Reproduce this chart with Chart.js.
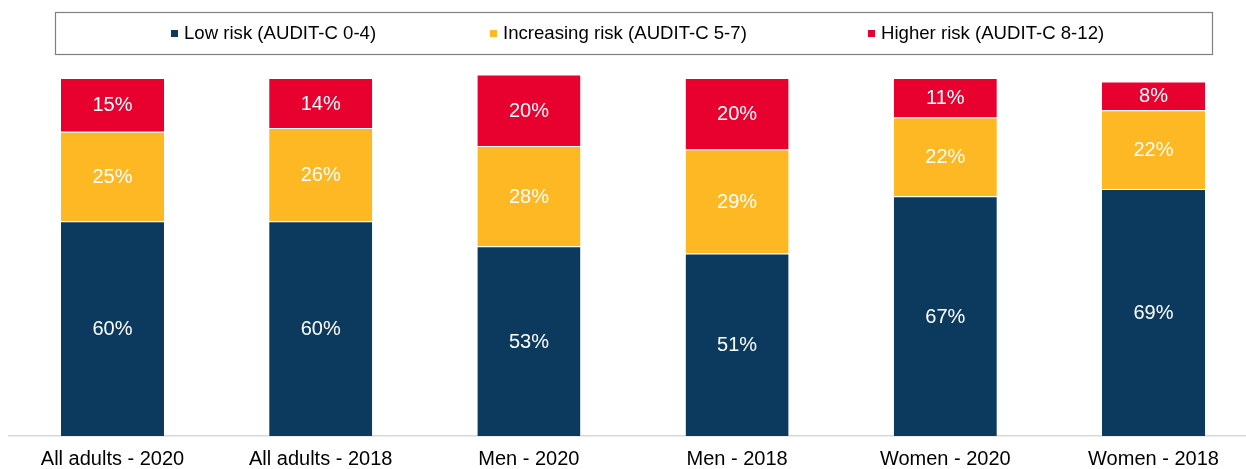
<!DOCTYPE html>
<html>
<head>
<meta charset="utf-8">
<script src="https://cdn.jsdelivr.net/npm/chart.js@4.4.1/dist/chart.umd.min.js"></script>
<style>
  html, body { margin: 0; padding: 0; background: #fff; overflow: hidden; }
  #wrap { position: absolute; left: 0; top: 0; width: 1260px; height: 469px; }
</style>
</head>
<body>
<div id="wrap"><canvas id="chart" width="1260" height="469"></canvas></div>
<script>
const categories = ['All adults - 2020', 'All adults - 2018', 'Men - 2020', 'Men - 2018', 'Women - 2020', 'Women - 2018'];
const seriesNames = ['Low risk (AUDIT-C 0-4)', 'Increasing risk (AUDIT-C 5-7)', 'Higher risk (AUDIT-C 8-12)'];
const lowRisk = [60, 60, 53, 51, 67, 69];
const increasingRisk = [25, 26, 28, 29, 22, 22];
const higherRisk = [15, 14, 20, 20, 11, 8];
const colors = ['#0c3a5f', '#fdb824', '#e8002f'];

const FONT = '"Liberation Sans", Arial, sans-serif';

// labels in the middle of each segment
const segmentLabels = {
  id: 'segmentLabels',
  afterDatasetsDraw(chart) {
    const ctx = chart.ctx;
    ctx.save();
    ctx.font = `20px ${FONT}`;
    ctx.fillStyle = '#ffffff';
    ctx.textAlign = 'center';
    ctx.textBaseline = 'middle';
    chart.data.datasets.forEach((ds, i) => {
      chart.getDatasetMeta(i).data.forEach((bar, j) => {
        const p = bar.getCenterPoint();
        ctx.fillText(`${ds.data[j]}%`, p.x, p.y + 1);
      });
    });
    ctx.restore();
  },
};

// boxed legend on top, like the Excel one
const legendMarkerX = [171, 490, 868];
const boxLegend = {
  id: 'boxLegend',
  afterDraw(chart) {
    const ctx = chart.ctx;
    ctx.save();
    ctx.strokeStyle = '#7f7f7f';
    ctx.lineWidth = 1.2;
    ctx.strokeRect(55.5, 12.5, 1157, 42);
    ctx.font = `18.6px ${FONT}`;
    ctx.textBaseline = 'middle';
    ctx.textAlign = 'left';
    chart.data.datasets.forEach((ds, i) => {
      const x = legendMarkerX[i];
      ctx.fillStyle = ds.backgroundColor;
      ctx.fillRect(x, 30, 7, 7);
      ctx.fillStyle = '#000000';
      ctx.fillText(ds.label, x + 13, 34);
    });
    ctx.restore();
  },
};

const seriesData = [lowRisk, increasingRisk, higherRisk];

new Chart(document.getElementById('chart'), {
  type: 'bar',
  data: {
    labels: categories,
    datasets: seriesNames.map((name, i) => ({
      label: name,
      data: seriesData[i],
      backgroundColor: colors[i],
      borderColor: '#ffffff',
      borderWidth: { top: 1, bottom: 0, left: 0, right: 0 },
      borderSkipped: false,
      barPercentage: 0.495,
      categoryPercentage: 1,
      clip: false,
    })),
  },
  options: {
    responsive: false,
    devicePixelRatio: 1,
    animation: false,
    layout: { padding: { left: 8.4, right: 2.4, top: 78, bottom: 0 } },
    plugins: {
      legend: { display: false },
      tooltip: { enabled: false },
    },
    scales: {
      x: {
        stacked: true,
        grid: { display: false, drawTicks: false },
        border: { display: true, color: '#d9d9d9', width: 1.5 },
        ticks: { color: '#000000', font: { family: FONT, size: 20 }, padding: 11, maxRotation: 0, autoSkip: false },
        afterFit(scale) { scale.height = 33; },
      },
      y: {
        stacked: true,
        display: false,
        min: 0,
        max: 100,
      },
    },
  },
  plugins: [segmentLabels, boxLegend],
});
</script>
</body>
</html>
